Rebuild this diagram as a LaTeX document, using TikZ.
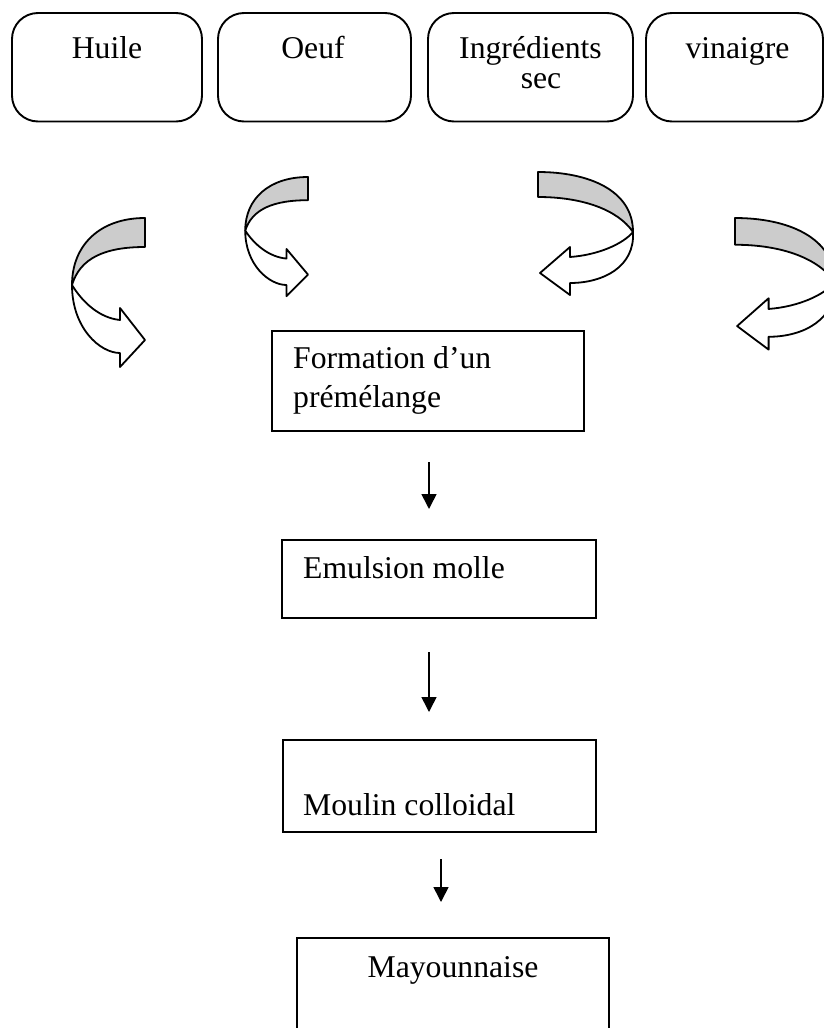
\documentclass[tikz,border=0pt]{standalone}
\usepackage{fontspec}
\setmainfont{Liberation Serif}
\usetikzlibrary{arrows.meta}
\definecolor{band}{RGB}{204,204,204}
\newcommand{\leftuturn}{%
  \filldraw[ribbon, fill=band] (0,0) .. controls (-45,0) and (-73,27) .. (-73,67)
     .. controls (-65,40) and (-40,29) .. (0,29) -- cycle;
  \filldraw[ribbon, fill=white] (-73,67) .. controls (-73,110) and (-45,135) .. (-25,135)
     -- (-25,149) -- (0,122) -- (-25,90) -- (-25,102)
     .. controls (-45,100) and (-62,85) .. (-73,67) -- cycle;}
\newcommand{\rightuturn}{%
  \filldraw[ribbon, fill=band] (0,0) .. controls (50,0) and (95,18) .. (95,60)
     .. controls (80,38) and (45,25) .. (0,25) -- cycle;
  \filldraw[ribbon, fill=white] (95,60) .. controls (97,95) and (65,111) .. (32,111)
     -- (32,123) -- (2,101) -- (32,75) -- (32,85)
     .. controls (60,83) and (85,72) .. (95,60) -- cycle;}
\begin{document}
\begin{tikzpicture}[x=1pt,y=-1pt,
  topbox/.style={draw, line width=1.9pt, rounded corners=26pt, minimum width=#1, minimum height=108.5pt, inner sep=0pt},
  stepbox/.style={draw, line width=1.9pt, inner sep=0pt},
  txt/.style={inner sep=0pt, font=\fontsize{31.7}{38}\selectfont},
  flow/.style={line width=1.6pt, -{Triangle[width=15pt,length=15pt]}},
  ribbon/.style={draw, line width=1.8pt, line join=round},
]
\useasboundingbox (0,0) rectangle (824,1028);
\clip (0,0) rectangle (824,1028);

% top ingredient boxes
\node[topbox=190pt] (huile) at (107,67.25) {};
\node[txt, anchor=base] (thuile) at (107,58) {Huile};
\node[topbox=193pt] (oeuf) at (314.5,67.25) {};
\node[txt, anchor=base] (toeuf) at (313,58) {Oeuf};
\node[topbox=205pt] (ingr) at (530.5,67.25) {};
\node[txt, anchor=base] (tingr) at (530.5,58) {Ingrédients};
\node[txt, anchor=base] (tsec) at (541,88) {sec};
\node[topbox=177pt] (vin) at (734.5,67.25) {};
\node[txt, anchor=base] (tvin) at (737.5,58) {vinaigre};

% curved ribbon arrows
\begin{scope}[shift={(145,218)}]\leftuturn\end{scope}
\begin{scope}[shift={(308,177)}, xscale=0.86, yscale=0.8]\leftuturn\end{scope}
\begin{scope}[shift={(538,172)}]\rightuturn\end{scope}
\begin{scope}[shift={(735,218)}, xscale=1.05, yscale=1.07]\rightuturn\end{scope}

% process boxes
\node[stepbox, minimum width=312pt, minimum height=100pt] (form) at (428,381) {};
\node[txt, anchor=base west] (tform1) at (293,368) {Formation d’un};
\node[txt, anchor=base west] (tform2) at (293,407) {prémélange};

\node[stepbox, minimum width=314pt, minimum height=78pt] (emul) at (439,579) {};
\node[txt, anchor=base west] (temul) at (303,578) {Emulsion molle};

\node[stepbox, minimum width=313pt, minimum height=92pt] (moulin) at (439.5,786) {};
\node[txt, anchor=base west] (tmoulin) at (303,815) {Moulin colloidal};

\node[stepbox, minimum width=312pt, minimum height=140pt] (mayo) at (453,1008) {};
\node[txt, anchor=base] (tmayo) at (453,977) {Mayounnaise};

% straight arrows
\coordinate (a1s) at (429,462); \coordinate (a1e) at (429,509);
\coordinate (a2s) at (429,652); \coordinate (a2e) at (429,712);
\coordinate (a3s) at (441,859); \coordinate (a3e) at (441,902);
\draw[flow] (a1s) -- (a1e);
\draw[flow] (a2s) -- (a2e);
\draw[flow] (a3s) -- (a3e);
\end{tikzpicture}
\end{document}
